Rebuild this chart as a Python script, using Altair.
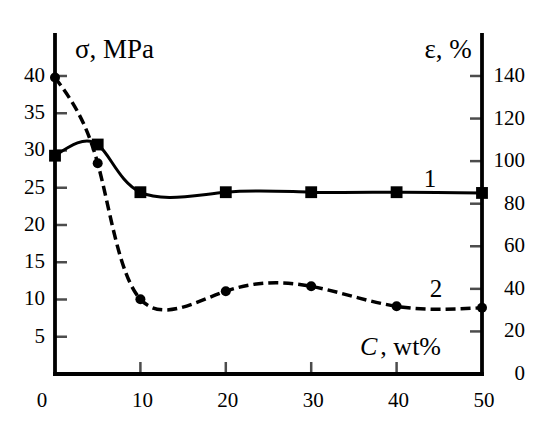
import altair as alt
import pandas as pd

# ---- data ----
C = [0, 5, 10, 20, 30, 40, 50]
sigma_MPa = [29.3, 30.8, 24.4, 24.4, 24.4, 24.4, 24.3]      # curve 1 (left axis)
eps_pct = [139.3, 99.0, 35.1, 38.9, 41.2, 31.8, 31.1]        # curve 2 (right axis)

x_ticks = [0, 10, 20, 30, 40, 50]
sigma_ticks = [5, 10, 15, 20, 25, 30, 35, 40]
eps_ticks = [0, 20, 40, 60, 80, 100, 120, 140]

FONT = "Liberation Serif"
X_MAX, S_MAX, E_MAX = 50, 45.5, 159.25

df1 = pd.DataFrame({"C": C, "sigma": sigma_MPa})
df2 = pd.DataFrame({"C": C, "eps": eps_pct})

xscale = alt.Scale(domain=[0, X_MAX], nice=False, zero=False)
yscale1 = alt.Scale(domain=[0, S_MAX], nice=False)
yscale2 = alt.Scale(domain=[0, E_MAX], nice=False)

Xc = alt.X("C:Q", scale=xscale, axis=None)

def xd(v):
    return alt.XDatum(v, axis=None)

def yd(v):
    return alt.YDatum(v, axis=None)

# ---------------- sigma group (left scale) ----------------
line1 = alt.Chart(df1).mark_line(interpolate="natural", color="black", strokeWidth=3).encode(
    x=Xc, y=alt.Y("sigma:Q", scale=yscale1, axis=None))
pts1 = alt.Chart(df1).mark_point(shape="square", filled=True, size=140, color="black",
                                 opacity=1).encode(
    x=Xc, y=alt.Y("sigma:Q", scale=yscale1, axis=None))

# axis lines
rule_kw = dict(color="black", strokeWidth=3.8, strokeCap="square")
dom_left = alt.Chart().mark_rule(**rule_kw).encode(x=xd(0), y=yd(0), y2=alt.Y2Datum(S_MAX))
dom_right = alt.Chart().mark_rule(**rule_kw).encode(x=xd(X_MAX), y=yd(0), y2=alt.Y2Datum(S_MAX))
dom_bottom = alt.Chart().mark_rule(**rule_kw).encode(x=xd(0), x2=alt.X2Datum(X_MAX), y=yd(0))

# inward ticks
sig_df = pd.DataFrame({"v": sigma_ticks})
ticks_left = alt.Chart(sig_df).mark_tick(
    orient="horizontal", size=12, thickness=2.5, color="black", xOffset=6).encode(
    x=xd(0), y=alt.Y("v:Q", scale=yscale1, axis=None))
xt_df = pd.DataFrame({"v": x_ticks})
ticks_bottom = alt.Chart(xt_df).transform_filter("datum.v > 0 && datum.v < 50").mark_tick(
    orient="vertical", size=12, thickness=2.5, color="black", yOffset=-6).encode(
    x=alt.X("v:Q", scale=xscale, axis=None), y=yd(0))

# tick labels
lab_kw = dict(font=FONT, fontSize=21, color="black")
labels_left = alt.Chart(sig_df).mark_text(align="right", baseline="middle", dx=-10, **lab_kw).encode(
    x=xd(0), y=alt.Y("v:Q", scale=yscale1, axis=None), text=alt.Text("v:Q"))
labels_bottom = alt.Chart(xt_df).transform_filter("datum.v > 0").mark_text(
    align="center", baseline="top", dx=2, dy=16, **lab_kw).encode(
    x=alt.X("v:Q", scale=xscale, axis=None), y=yd(0), text=alt.Text("v:Q"))
labels_bottom0 = alt.Chart(xt_df).transform_filter("datum.v == 0").mark_text(
    align="center", baseline="top", dx=-13, dy=16, **lab_kw).encode(
    x=alt.X("v:Q", scale=xscale, axis=None), y=yd(0), text=alt.Text("v:Q"))

def label(txt, cx, cy, size=27, align="left", style="normal"):
    return alt.Chart().mark_text(font=FONT, fontSize=size, align=align, baseline="alphabetic",
                                 color="black", fontStyle=style).encode(
        x=xd(cx), y=yd(cy), text=alt.value(txt))

t_sigma = label("σ, MPa", 2.34, 42.4)
t_eps = label("ε, %", 48.8, 42.4, align="right")
t_1 = label("1", 43.9, 25.1, size=25, align="center")
t_2 = label("2", 44.6, 10.3, size=25, align="center")
t_C = label("C", 35.7, 2.55, size=26, style="italic")
t_wt = label(", wt%", 38.1, 2.55, size=26)

group1 = alt.layer(dom_left, dom_right, dom_bottom, ticks_left, ticks_bottom,
                   labels_left, labels_bottom, labels_bottom0,
                   line1, pts1, t_sigma, t_eps, t_1, t_2, t_C, t_wt)

# ---------------- epsilon group (right scale) ----------------
line2 = alt.Chart(df2).mark_line(interpolate="natural", color="black", strokeWidth=3.5,
                                 strokeDash=[10, 5]).encode(
    x=Xc, y=alt.Y("eps:Q", scale=yscale2, axis=None))
pts2 = alt.Chart(df2).mark_point(shape="circle", filled=True, size=100, color="black",
                                 opacity=1).encode(
    x=Xc, y=alt.Y("eps:Q", scale=yscale2, axis=None))
eps_df = pd.DataFrame({"v": eps_ticks})
ticks_right = alt.Chart(eps_df).transform_filter("datum.v > 0").mark_tick(
    orient="horizontal", size=12, thickness=2.5, color="black", xOffset=-6).encode(
    x=xd(X_MAX), y=alt.Y("v:Q", scale=yscale2, axis=None))
labels_right = alt.Chart(eps_df).mark_text(align="right", baseline="middle", dx=43, **lab_kw).encode(
    x=xd(X_MAX), y=alt.Y("v:Q", scale=yscale2, axis=None), text=alt.Text("v:Q"))

group2 = alt.layer(ticks_right, labels_right, line2, pts2)

chart = alt.layer(group1, group2).resolve_scale(y="independent").properties(
    width=427, height=339,
    autosize=alt.AutoSizeParams(type="none"),
    padding={"left": 47, "top": 27, "right": 57, "bottom": 42},
    background="white",
).configure_view(stroke=None)

chart.save("out.html", embed_options={"renderer": "svg", "actions": False})
